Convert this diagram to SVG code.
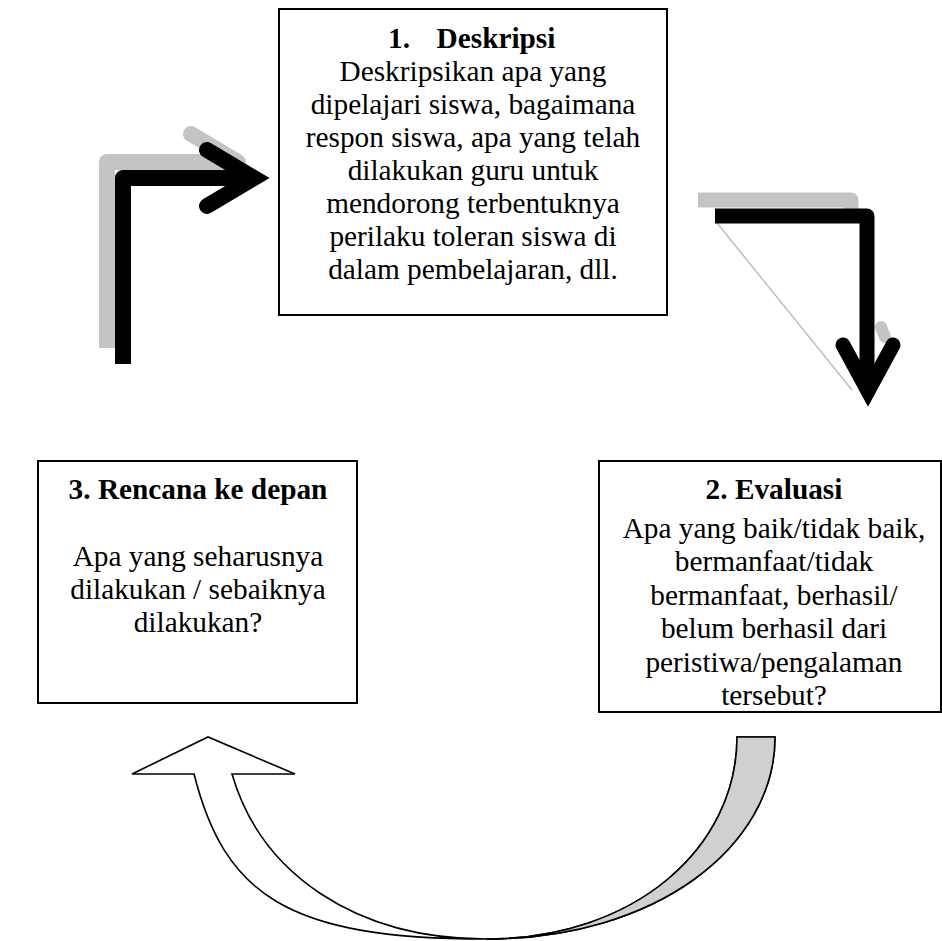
<svg xmlns="http://www.w3.org/2000/svg" width="942" height="941" viewBox="0 0 942 941">
  <style>
    .box { fill: #ffffff; stroke: #000000; stroke-width: 2; }
    .t { font-family: "Liberation Serif", "Times New Roman", serif; font-size: 29.3px; fill: #000000; text-anchor: middle; }
    .b { font-weight: bold; }
    .shaft { fill: none; stroke: #000000; stroke-linejoin: round; stroke-linecap: butt; }
    .head { fill: none; stroke: #000000; stroke-linejoin: miter; stroke-linecap: round; }
    .shadow { fill: none; stroke: #c4c4c4; stroke-linejoin: round; }
  </style>
  <rect width="942" height="941" fill="#ffffff"/>

  <g id="connectors">
    <!-- arrow from box 3 up to box 1 -->
    <g id="arrow-3-to-1">
      <path class="shadow" d="M107,348 V162 H240" stroke-width="16" stroke-linecap="butt"/>
      <path class="shadow" d="M191,134 L238,162" stroke-width="16" stroke-linecap="round"/>
      <path class="shaft" d="M123,364 V178 H254" stroke-width="16"/>
      <path class="head" d="M207,150 L254,178 L207,206" stroke-width="16"/>
    </g>
    <!-- arrow from box 1 down to box 2 -->
    <g id="arrow-1-to-2">
      <path class="shadow" d="M698,200 H851 V222" stroke-width="15" stroke-linecap="butt"/>
      <line x1="717" y1="223" x2="852" y2="390" stroke="#bdbdbd" stroke-width="1.5"/>
      <path class="shadow" d="M881,327 L885,337" stroke-width="12" stroke-linecap="round"/>
      <path class="shaft" d="M715,216 H867 V391" stroke-width="15"/>
      <path class="head" d="M843,345 L868,391 L893,345" stroke-width="15"/>
    </g>
    <!-- curved arrow from box 2 back to box 3 -->
    <g id="arrow-2-to-3">
      <path d="M775,737 C775,847 656,939 486,939 C286,939 224.6,894 194,774 L132,774 L208,737 L295,774 L232,774 C261,874 356,939 486,939 C636,939 737,847 737,737 Z" fill="#ffffff" stroke="#000000" stroke-width="1.6" stroke-linejoin="miter"/>
      <path d="M775,737 C775,847 656,939 486,939 C636,939 737,847 737,737 Z" fill="#d0d0d0" stroke="#000000" stroke-width="1.6"/>
    </g>
  </g>

  <g id="node-deskripsi">
    <rect class="box" x="279" y="9" width="388" height="306"/>
    <text class="t b" y="48"><tspan x="399">1.</tspan><tspan x="496">Deskripsi</tspan></text>
    <text class="t" x="473" y="81">Deskripsikan apa yang</text>
    <text class="t" x="473" y="114">dipelajari siswa, bagaimana</text>
    <text class="t" x="473" y="147">respon siswa, apa yang telah</text>
    <text class="t" x="473" y="180">dilakukan guru untuk</text>
    <text class="t" x="473" y="213">mendorong terbentuknya</text>
    <text class="t" x="473" y="246">perilaku toleran siswa di</text>
    <text class="t" x="473" y="279">dalam pembelajaran, dll.</text>
  </g>

  <g id="node-evaluasi">
    <rect class="box" x="599" y="461" width="342" height="251"/>
    <text class="t b" x="774" y="499">2. Evaluasi</text>
    <text class="t" x="774" y="538">Apa yang baik/tidak baik,</text>
    <text class="t" x="774" y="571">bermanfaat/tidak</text>
    <text class="t" x="774" y="605">bermanfaat, berhasil/</text>
    <text class="t" x="774" y="638">belum berhasil dari</text>
    <text class="t" x="774" y="672">peristiwa/pengalaman</text>
    <text class="t" x="774" y="705">tersebut?</text>
  </g>

  <g id="node-rencana">
    <rect class="box" x="38" y="461" width="319" height="242"/>
    <text class="t b" x="198" y="499">3. Rencana ke depan</text>
    <text class="t" x="198" y="566">Apa yang seharusnya</text>
    <text class="t" x="198" y="599">dilakukan / sebaiknya</text>
    <text class="t" x="198" y="632">dilakukan?</text>
  </g>
</svg>
